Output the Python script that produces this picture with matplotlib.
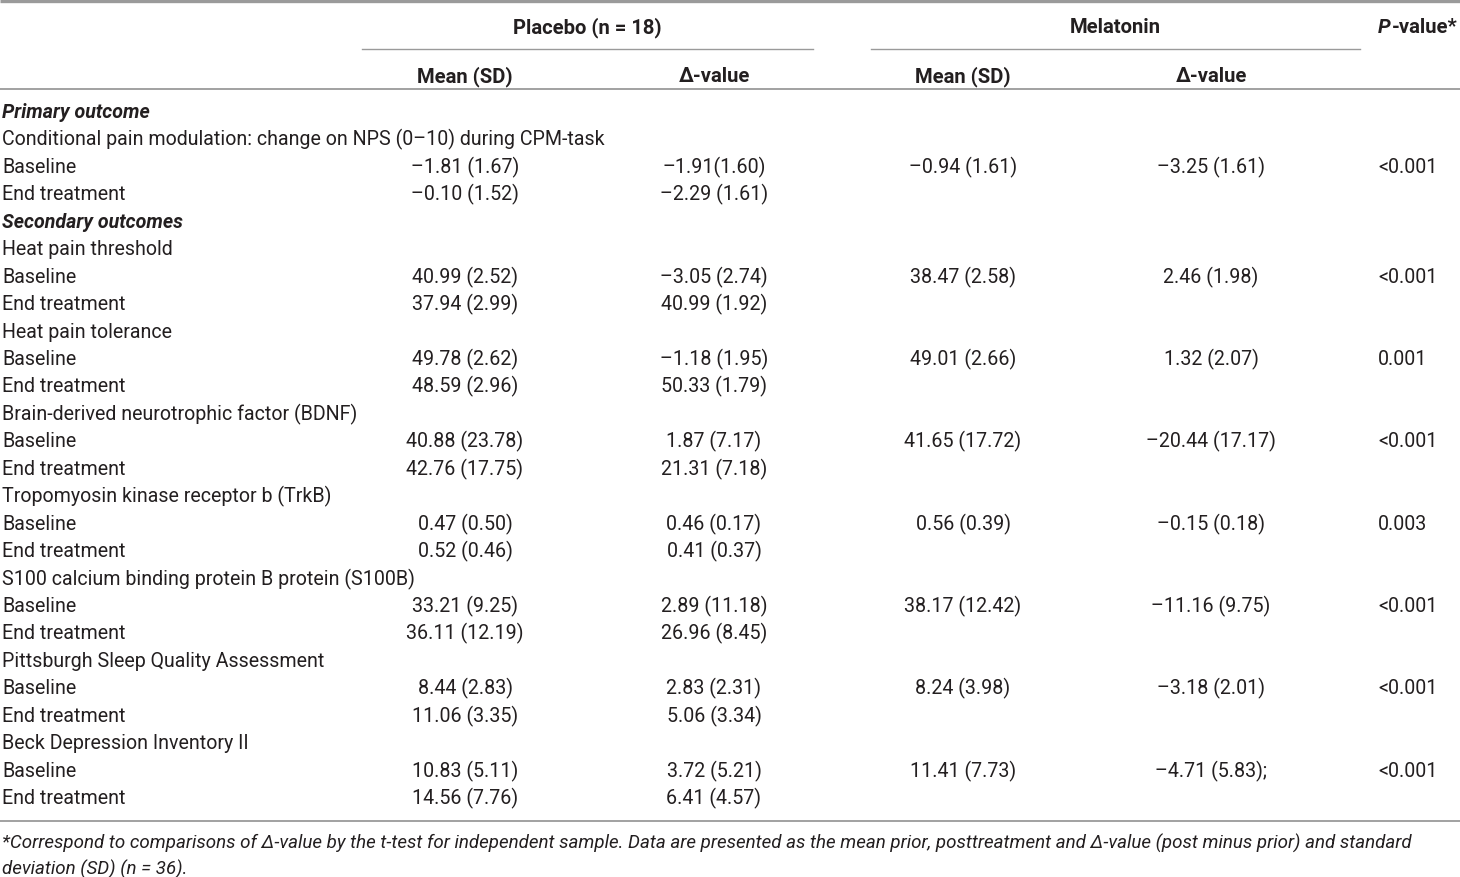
import matplotlib
matplotlib.use('Agg')
import matplotlib.pyplot as plt

plt.rcParams['font.family'] = ['Roboto', 'DejaVu Sans']

row_labels = [
    'Primary outcome',
    'Conditional pain modulation: change on NPS (0–10) during CPM-task',
    'Baseline', 'End treatment',
    'Secondary outcomes',
    'Heat pain threshold', 'Baseline', 'End treatment',
    'Heat pain tolerance', 'Baseline', 'End treatment',
    'Brain-derived neurotrophic factor (BDNF)', 'Baseline', 'End treatment',
    'Tropomyosin kinase receptor b (TrkB)', 'Baseline', 'End treatment',
    'S100 calcium binding protein B protein (S100B)', 'Baseline', 'End treatment',
    'Pittsburgh Sleep Quality Assessment', 'Baseline', 'End treatment',
    'Beck Depression Inventory II', 'Baseline', 'End treatment',
]
section_rows = [0, 4]

placebo_mean = ['', '', '–1.81 (1.67)', '–0.10 (1.52)', '',
                '', '40.99 (2.52)', '37.94 (2.99)',
                '', '49.78 (2.62)', '48.59 (2.96)',
                '', '40.88 (23.78)', '42.76 (17.75)',
                '', '0.47 (0.50)', '0.52 (0.46)',
                '', '33.21 (9.25)', '36.11 (12.19)',
                '', '8.44 (2.83)', '11.06 (3.35)',
                '', '10.83 (5.11)', '14.56 (7.76)']
placebo_delta = ['', '', '–1.91(1.60)', '–2.29 (1.61)', '',
                 '', '–3.05 (2.74)', '40.99 (1.92)',
                 '', '–1.18 (1.95)', '50.33 (1.79)',
                 '', '1.87 (7.17)', '21.31 (7.18)',
                 '', '0.46 (0.17)', '0.41 (0.37)',
                 '', '2.89 (11.18)', '26.96 (8.45)',
                 '', '2.83 (2.31)', '5.06 (3.34)',
                 '', '3.72 (5.21)', '6.41 (4.57)']
melatonin_mean = ['', '', '–0.94 (1.61)', '', '',
                  '', '38.47 (2.58)', '',
                  '', '49.01 (2.66)', '',
                  '', '41.65 (17.72)', '',
                  '', '0.56 (0.39)', '',
                  '', '38.17 (12.42)', '',
                  '', '8.24 (3.98)', '',
                  '', '11.41 (7.73)', '']
melatonin_delta = ['', '', '–3.25 (1.61)', '', '',
                   '', '2.46 (1.98)', '',
                   '', '1.32 (2.07)', '',
                   '', '–20.44 (17.17)', '',
                   '', '–0.15 (0.18)', '',
                   '', '–11.16 (9.75)', '',
                   '', '–3.18 (2.01)', '',
                   '', '–4.71 (5.83);', '']
p_values = ['', '', '<0.001', '', '',
            '', '<0.001', '',
            '', '0.001', '',
            '', '<0.001', '',
            '', '0.003', '',
            '', '<0.001', '',
            '', '<0.001', '',
            '', '<0.001', '']

group_headers = ['Placebo (n = 18)', 'Melatonin']
sub_headers = ['Mean (SD)', 'Δ-value', 'Mean (SD)', 'Δ-value']
footnote = ['*Correspond to comparisons of Δ-value by the t-test for independent sample. '
            'Data are presented as the mean prior, posttreatment and Δ-value (post minus prior) and standard',
            'deviation (SD) (n = 36).']

W, H = 1460, 878
fig = plt.figure(figsize=(W / 100, H / 100), dpi=100)
ax = fig.add_axes([0, 0, 1, 1])
ax.set_xlim(0, W)
ax.set_ylim(H, 0)
ax.axis('off')

fs = 14.1
fs_head = 14.6
fs_note = 13.5
txt = '#231f20'
line_c = '#9a9a9a'

# rules
ax.plot([0, W], [2, 2], color=line_c, lw=2.4, solid_capstyle='butt')
ax.plot([362, 813], [50, 50], color=line_c, lw=1.0)
ax.plot([871, 1360], [50, 50], color=line_c, lw=1.0)
ax.plot([0, W], [90, 90], color=line_c, lw=1.3)
ax.plot([0, W], [822, 822], color=line_c, lw=1.3)

# headers
ax.text(587, 27.5, group_headers[0], ha='center', va='center', fontsize=fs_head, fontweight='bold', color=txt)
ax.text(1115, 27.5, group_headers[1], ha='center', va='center', fontsize=fs_head, fontweight='bold', color=txt)
sub_x = [465, 714, 963, 1211]
for x, s in zip(sub_x, sub_headers):
    ax.text(x, 76.5, s, ha='center', va='center', fontsize=fs_head, fontweight='bold', color=txt)

p = ax.text(1378, 27.5, 'P', ha='left', va='center', fontsize=fs_head, fontweight='bold',
            fontstyle='italic', color=txt)
fig.canvas.draw()
bb = p.get_window_extent()
ax.text(bb.x1 + 1, 27.5, '-value*', ha='left', va='center', fontsize=fs_head, fontweight='bold', color=txt)

# body rows
y0, dy = 112.5, 27.44
cols = [placebo_mean, placebo_delta, melatonin_mean, melatonin_delta]
for i, lab in enumerate(row_labels):
    y = y0 + i * dy
    if i in section_rows:
        ax.text(2, y, lab, ha='left', va='center', fontsize=fs, fontweight='bold',
                fontstyle='italic', color=txt)
    else:
        ax.text(2, y, lab, ha='left', va='center', fontsize=fs, color=txt)
    for x, col in zip(sub_x, cols):
        if col[i]:
            ax.text(x, y, col[i], ha='center', va='center', fontsize=fs, color=txt)
    if p_values[i]:
        ax.text(1378, y, p_values[i], ha='left', va='center', fontsize=fs, color=txt)

# footnote
for k, line in enumerate(footnote):
    ax.text(2, 843 + k * 26, line, ha='left', va='center', fontsize=fs_note,
            fontstyle='italic', color=txt)

fig.savefig('out.png', dpi=100)
